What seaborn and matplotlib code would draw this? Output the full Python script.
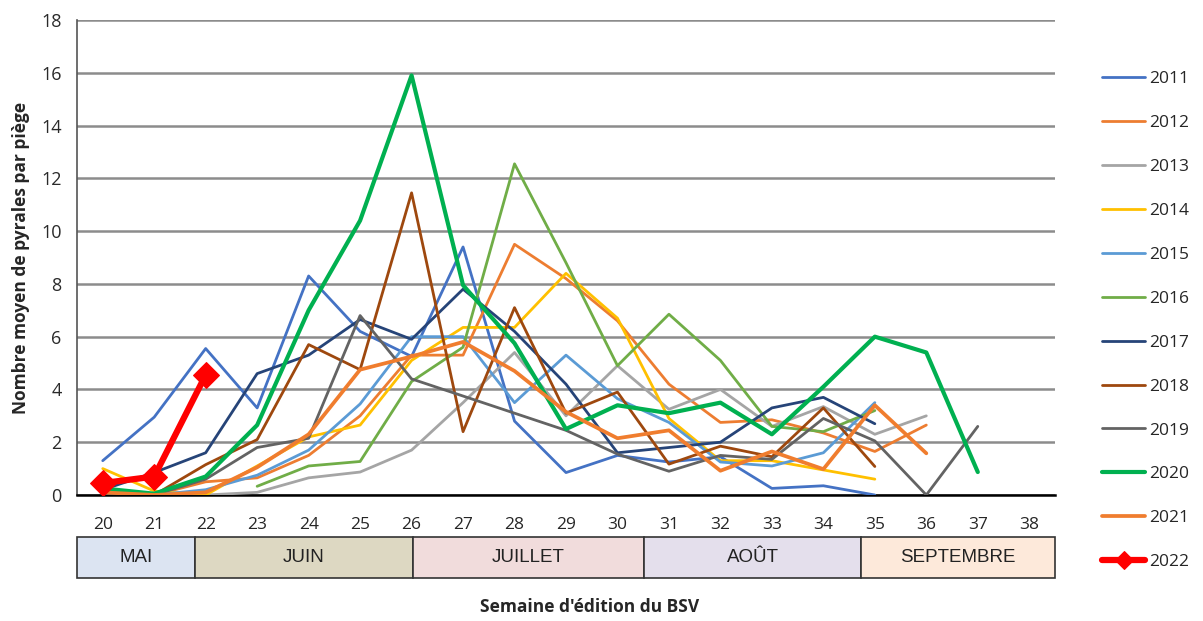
"""
Courbes de vol de la pyrale : nombre moyen de pyrales par piège, 2011-2022
"""

import numpy as np
import pandas as pd
import matplotlib
matplotlib.use("Agg")
import matplotlib.pyplot as plt
import matplotlib.transforms as mtransforms
from matplotlib.patches import Rectangle
import seaborn as sns

# semaines d'édition du BSV
weeks = list(range(20, 39))
nan = np.nan

# une liste par année (semaines 20 à 38)
y2011 = [1.3, 2.95, 5.55, 3.3, 8.3, 6.2, 5.25, 9.4, 2.8, 0.85, 1.5, 1.25, 1.45, 0.25, 0.35, 0.0, nan, nan, nan]
y2012 = [0.1, 0.0, 0.5, 0.65, 1.5, 3.0, 5.3, 5.3, 9.5, 8.2, 6.6, 4.2, 2.75, 2.85, 2.35, 1.65, 2.65, nan, nan]
y2013 = [0.0, 0.0, 0.0, 0.1, 0.65, 0.87, 1.7, 3.5, 5.4, 3.0, 4.9, 3.25, 4.0, 2.6, 3.35, 2.3, 3.0, nan, nan]
y2014 = [1.0, 0.15, 0.0, 1.1, 2.2, 2.65, 5.1, 6.35, 6.35, 8.4, 6.7, 2.9, 1.3, 1.3, 0.95, 0.6, nan, nan, nan]
y2015 = [0.2, 0.0, 0.2, 0.75, 1.7, 3.45, 6.0, 6.0, 3.5, 5.3, 3.65, 2.75, 1.25, 1.1, 1.6, 3.5, nan, nan, nan]
y2016 = [nan, nan, nan, 0.33, 1.1, 1.27, 4.3, 5.6, 12.55, 8.8, 4.9, 6.85, 5.1, 2.6, 2.4, 3.2, nan, nan, nan]
y2017 = [0.2, 0.85, 1.6, 4.6, 5.3, 6.65, 5.9, 7.8, 6.2, 4.2, 1.6, 1.8, 2.0, 3.3, 3.7, 2.7, nan, nan, nan]
y2018 = [0.1, 0.0, 1.15, 2.1, 5.7, 4.75, 11.45, 2.4, 7.1, 3.1, 3.9, 1.17, 1.85, 1.45, 3.3, 1.08, nan, nan, nan]
y2019 = [0.0, 0.0, 0.6, 1.8, 2.15, 6.8, 4.4, 3.75, 3.1, 2.45, 1.55, 0.9, 1.5, 1.35, 2.9, 2.05, 0.0, 2.6, nan]
y2020 = [0.25, 0.05, 0.7, 2.65, 7.0, 10.4, 15.9, 7.95, 5.75, 2.5, 3.4, 3.1, 3.5, 2.3, 4.1, 6.0, 5.4, 0.87, nan]
y2021 = [0.1, 0.0, 0.1, 1.05, 2.3, 4.75, 5.25, 5.8, 4.7, 3.15, 2.15, 2.45, 0.92, 1.65, 0.98, 3.4, 1.58, nan, nan]
y2022 = [0.45, 0.7, 4.55, nan, nan, nan, nan, nan, nan, nan, nan, nan, nan, nan, nan, nan, nan, nan, nan]

years = ['2011', '2012', '2013', '2014', '2015', '2016', '2017', '2018', '2019', '2020', '2021', '2022']
series = [y2011, y2012, y2013, y2014, y2015, y2016, y2017, y2018, y2019, y2020, y2021, y2022]
colors = ['#4472C4', '#ED7D31', '#A5A5A5', '#FFC000', '#5B9BD5', '#70AD47',
          '#264478', '#9E480E', '#636363', '#00B050', '#F07D2E', '#FF0000']
widths = [2.0, 2.0, 2.0, 2.0, 2.0, 2.0, 2.0, 2.0, 2.0, 3.0, 2.7, 4.5]

# bandes des mois (bornes en semaines)
months = ['MAI', 'JUIN', 'JUILLET', 'AOÛT', 'SEPTEMBRE']
month_edges = [19.5, 21.8, 26.02, 30.52, 34.73, 38.5]
month_colors = ['#DCE4F2', '#DDD8C2', '#F1DCDC', '#E4DFEC', '#FDE9DA']

# construction du tableau long
df = pd.concat([pd.DataFrame({'semaine': weeks, 'valeur': s, 'annee': y})
                for y, s in zip(years, series)], ignore_index=True)
df = df.dropna()

sns.set_style("white")
plt.rcParams['font.family'] = ['Open Sans', 'DejaVu Sans']

fig = plt.figure(figsize=(12.03, 6.21), dpi=100)
ax = fig.add_axes([77 / 1203, 1 - 495 / 621, (1055 - 77) / 1203, (495 - 20) / 621])

for y, c, lw in zip(years, colors, widths):
    d = df[df['annee'] == y]
    if y == '2022':
        sns.lineplot(data=d, x='semaine', y='valeur', ax=ax, color=c, lw=lw,
                     marker='D', markersize=13, markeredgecolor=c, label=y,
                     zorder=5)
    else:
        sns.lineplot(data=d, x='semaine', y='valeur', ax=ax, color=c, lw=lw,
                     label=y, zorder=3)

# axes
ax.set_xlim(19.5, 38.5)
ax.set_ylim(0, 18)
ax.set_yticks(np.arange(0, 19, 2))
ax.yaxis.grid(True, color='#8C8C8C', lw=1.8)
ax.set_axisbelow(True)
ax.set_xticks(np.arange(19.5, 39, 1))
ax.set_xticklabels([])
ax.set_xticks(weeks, minor=True)
ax.set_xticklabels([str(w) for w in weeks], minor=True)
ax.tick_params(axis='x', which='major', direction='out', length=7, width=1.5, color='black')
ax.tick_params(axis='x', which='minor', length=0, pad=16, labelsize=12.5)
ax.tick_params(axis='y', length=0, labelsize=13, pad=11, labelcolor='#2a2a2a')
for s in ['top', 'right']:
    ax.spines[s].set_visible(False)
ax.spines['left'].set_color('#555555')
ax.spines['left'].set_linewidth(1.2)
ax.spines['bottom'].set_color('black')
ax.spines['bottom'].set_linewidth(1.8)
ax.set_xlabel('')
ax.set_ylabel('Nombre moyen de pyrales par piège', fontsize=12.5, fontweight='bold', labelpad=8)

# bandes des mois sous l'axe
trans = mtransforms.blended_transform_factory(ax.transData, ax.transAxes)
band_top = (495 - 537) / 475
band_bot = (495 - 578) / 475
for m, x0, x1, c in zip(months, month_edges[:-1], month_edges[1:], month_colors):
    ax.add_patch(Rectangle((x0, band_bot), x1 - x0, band_top - band_bot, transform=trans,
                           facecolor=c, edgecolor='#333333', lw=1.2, clip_on=False))
    ax.text((x0 + x1) / 2, (band_top + band_bot) / 2, m, transform=trans, ha='center',
            va='center', fontsize=13.5, family=['Liberation Sans', 'DejaVu Sans'],
            color='#222222')

fig.text(590 / 1203, 1 - 607 / 621, "Semaine d'édition du BSV", ha='center', va='center',
         fontsize=12.5, fontweight='bold')

# légende à droite
ax.legend(loc='upper left', bbox_to_anchor=(1095 / 1203, 1 - 64 / 621),
          bbox_transform=fig.transFigure, frameon=False, fontsize=12.5,
          handlelength=2.5, handletextpad=0.2, labelspacing=1.6, markerscale=0.7,
          borderaxespad=0)

plt.savefig('out.png', dpi=100)
plt.close()
